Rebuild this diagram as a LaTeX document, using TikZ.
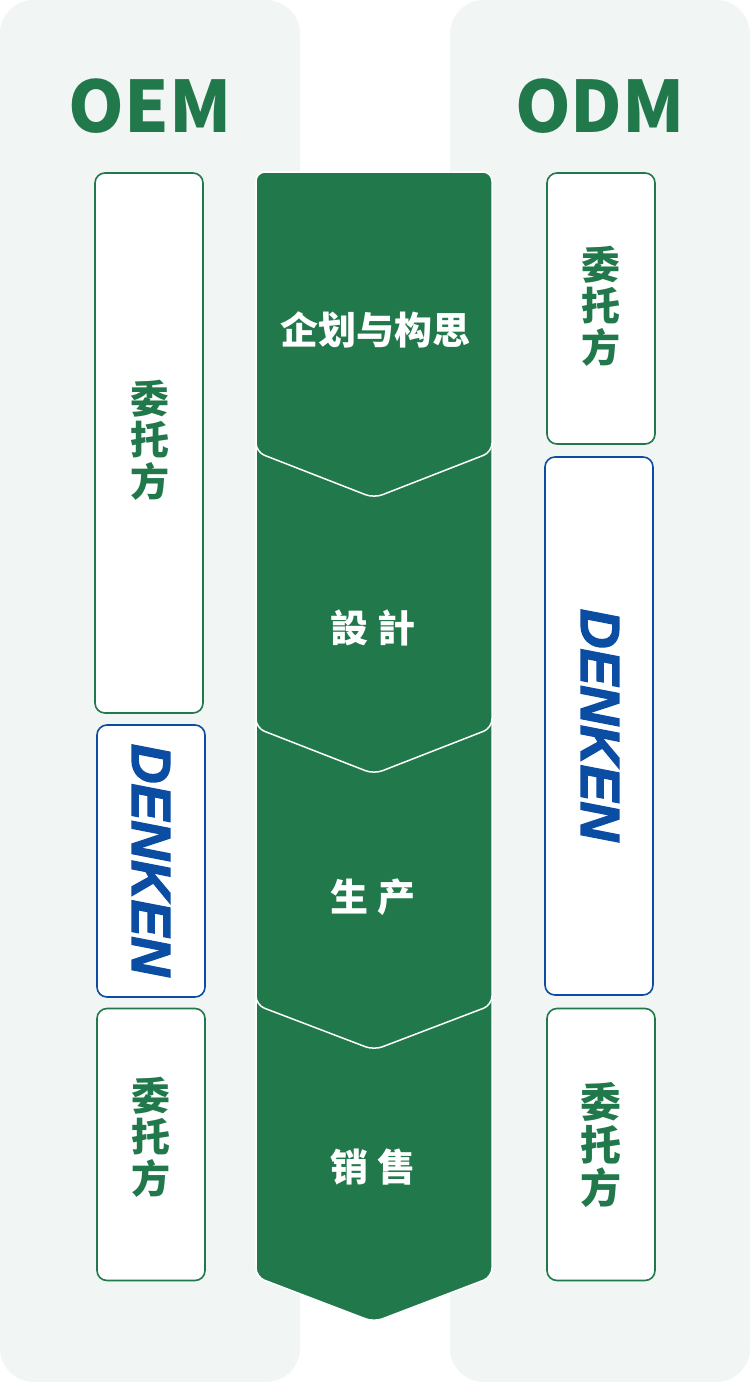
\documentclass[tikz,border=0pt]{standalone}
\usepackage{fontspec}
\newfontfamily\cjk{Noto Sans CJK SC}
\newfontfamily\logofont{Liberation Sans}[BoldItalicFeatures={FakeBold=2.5}]
\definecolor{dgreen}{RGB}{32,120,75}
\definecolor{dblue}{RGB}{10,77,162}
\definecolor{panelgray}{RGB}{241,245,244}
\begin{document}
\begin{tikzpicture}[x=1pt,y=-1pt,
  panel/.style={fill=panelgray, rounded corners=34pt},
  stepshape/.style={fill=dgreen, draw=white, line width=1.5pt, rounded corners=9pt},
  clientbox/.style={draw=dgreen, fill=white, line width=1.6pt, rounded corners=10pt, minimum width=108pt, inner sep=0pt},
  denkenbox/.style={draw=dblue, fill=white, line width=1.6pt, rounded corners=10pt, minimum width=108pt, inner sep=0pt},
  steptext/.style={text=white, inner sep=0pt, font=\cjk\bfseries\fontsize{38}{40}\selectfont},
  clienttext/.style={text=dgreen, align=center, inner sep=0pt, font=\cjk\bfseries\fontsize{39}{41.5}\selectfont},
  logotext/.style={text=dblue, rotate=-90, inner sep=0pt, font=\logofont\bfseries\itshape\fontsize{55}{55}\selectfont},
  titletext/.style={text=dgreen, inner sep=0pt, font=\cjk\bfseries\fontsize{71}{71}\selectfont}]
\useasboundingbox (0,0) rectangle (750,1382);
\fill[white] (0,0) rectangle (750,1382);
% panels
\fill[panel] (0,0) rectangle (300,1382);
\fill[panel] (450,0) rectangle (750,1382);
% titles
\node[titletext] (oem) at (150,106) {OEM};
\node[titletext] (odm) at (600,106) {ODM};
% process chevrons (drawn bottom first)
\draw[stepshape] (256,985) -- (492,985) -- (492,1277) -- (374,1322) -- (256,1277) -- cycle;
\draw[stepshape] (256,708) -- (492,708) -- (492,1005) -- (374,1050) -- (256,1005) -- cycle;
\draw[stepshape] (256,432) -- (492,432) -- (492,728) -- (374,774) -- (256,728) -- cycle;
\draw[stepshape] (256,172) -- (492,172) -- (492,452) -- (374,498) -- (256,452) -- cycle;
\node[steptext] (s1) at (375,330) {企划与构思};
\node[steptext] (s2) at (373,628) {設 計};
\node[steptext] (s3) at (373,897) {生 产};
\node[steptext] (s4) at (373,1167) {销 售};
% OEM column
\node[clientbox, minimum height=540pt] (l1) at (149,443) {};
\node[clienttext] (l1t) at (150,440) {委\\托\\方};
\node[denkenbox, minimum height=272pt] (l2) at (151,861) {};
\node[logotext] (l2t) at (151,860) {DENKEN};
\node[clientbox, minimum height=272pt] (l3) at (151,1144.5) {};
\node[clienttext] (l3t) at (151,1137) {委\\托\\方};
% ODM column
\node[clientbox, minimum height=271pt] (r1) at (601,308.5) {};
\node[clienttext] (r1t) at (601,306) {委\\托\\方};
\node[denkenbox, minimum height=538pt] (r2) at (599,726) {};
\node[logotext] (r2t) at (600,725) {DENKEN};
\node[clientbox, minimum height=272pt] (r3) at (601,1144.5) {};
\node[clienttext, font=\cjk\bfseries\fontsize{41}{43}\selectfont] (r3t) at (601,1145) {委\\托\\方};
\end{tikzpicture}
\end{document}
